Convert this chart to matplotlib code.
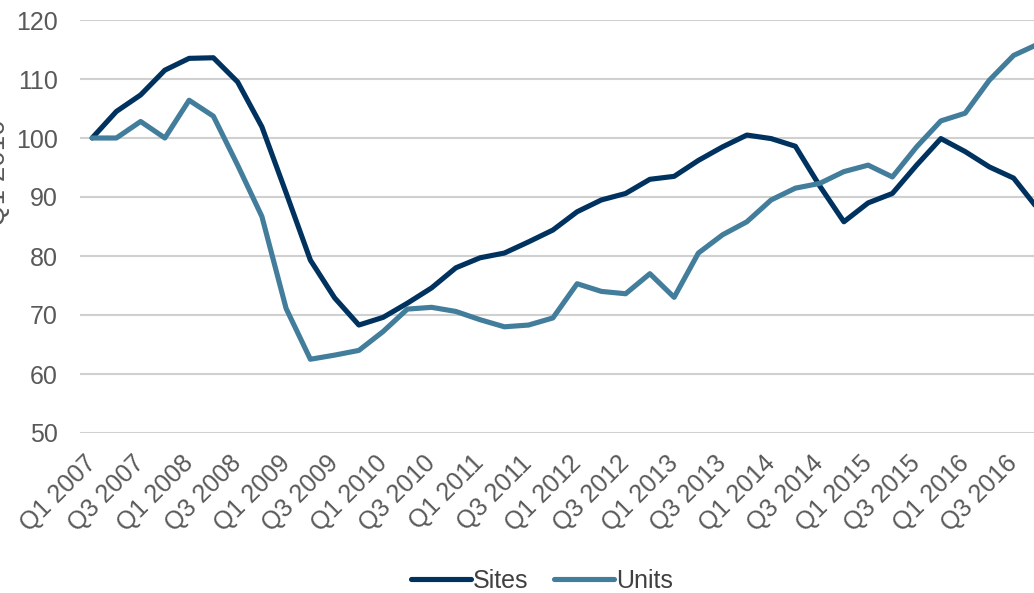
import numpy as np
import matplotlib
matplotlib.use("Agg")
import matplotlib.pyplot as plt

plt.rcParams["font.family"] = ["Liberation Sans", "DejaVu Sans"]

# quarterly index, Q1 2007 .. Q4 2016
quarters = [f"Q{q} {y}" for y in range(2007, 2017) for q in (1, 2, 3, 4)]

sites = [100.0, 104.5, 107.3, 111.5, 113.5, 113.6, 109.5, 101.9,
         90.7, 79.3, 72.9, 68.3, 69.6, 72.0, 74.6, 78.0,
         79.7, 80.5, 82.4, 84.4, 87.5, 89.5, 90.6, 93.0,
         93.5, 96.2, 98.5, 100.5, 99.9, 98.6, 91.9, 85.8,
         89.0, 90.6, 95.4, 99.9, 97.7, 95.1, 93.2, 88.0]

units = [100.0, 100.0, 102.8, 100.0, 106.4, 103.7, 95.4, 86.7,
         71.1, 62.5, 63.2, 64.0, 67.2, 71.0, 71.3, 70.6,
         69.2, 68.0, 68.3, 69.5, 75.3, 74.0, 73.6, 77.0,
         73.0, 80.5, 83.6, 85.8, 89.5, 91.5, 92.3, 94.3,
         95.4, 93.4, 98.5, 102.9, 104.2, 109.8, 114.0, 115.9]

SITES_COLOR = "#00325F"
UNITS_COLOR = "#427D9B"
TEXT_COLOR = "#595959"

fig = plt.figure(figsize=(10.34, 5.93), dpi=100)
ax = fig.add_axes([80 / 1034, 1 - 433 / 593, 970 / 1034, 413 / 593])

x = np.arange(len(quarters))
ax.plot(x, sites, color=SITES_COLOR, lw=3.7, label="Sites",
        solid_joinstyle="round", solid_capstyle="round")
ax.plot(x, units, color=UNITS_COLOR, lw=3.7, label="Units",
        solid_joinstyle="round", solid_capstyle="round")

ax.set_xlim(-0.5, len(quarters) - 0.5)
ax.set_ylim(50, 120)
ax.set_yticks(range(50, 121, 10))
ax.yaxis.grid(True, color="#D0D0D0", lw=1.5)
ax.set_axisbelow(True)
for s in ax.spines.values():
    s.set_visible(False)

ax.set_xticks(x[::2])
ax.set_xticklabels(quarters[::2], rotation=45, ha="right",
                   rotation_mode="anchor", va="center")
ax.tick_params(axis="x", length=0, pad=19, labelsize=18, labelcolor=TEXT_COLOR)
ax.tick_params(axis="y", length=0, pad=16, labelsize=18, labelcolor=TEXT_COLOR)

# axis title, mostly cut off at the left edge in the original
fig.text(11 / 1034, 1 - 226 / 593, "Q1 2010", rotation=90, ha="right",
         va="bottom", fontsize=20, color=TEXT_COLOR)

fig.legend(loc="center", bbox_to_anchor=(542 / 1034, 12 / 593), ncol=2,
           frameon=False, fontsize=18, handlelength=2.4, handletextpad=0.1,
           columnspacing=1.0, labelcolor="#404040")

fig.savefig("out.png", dpi=100)
